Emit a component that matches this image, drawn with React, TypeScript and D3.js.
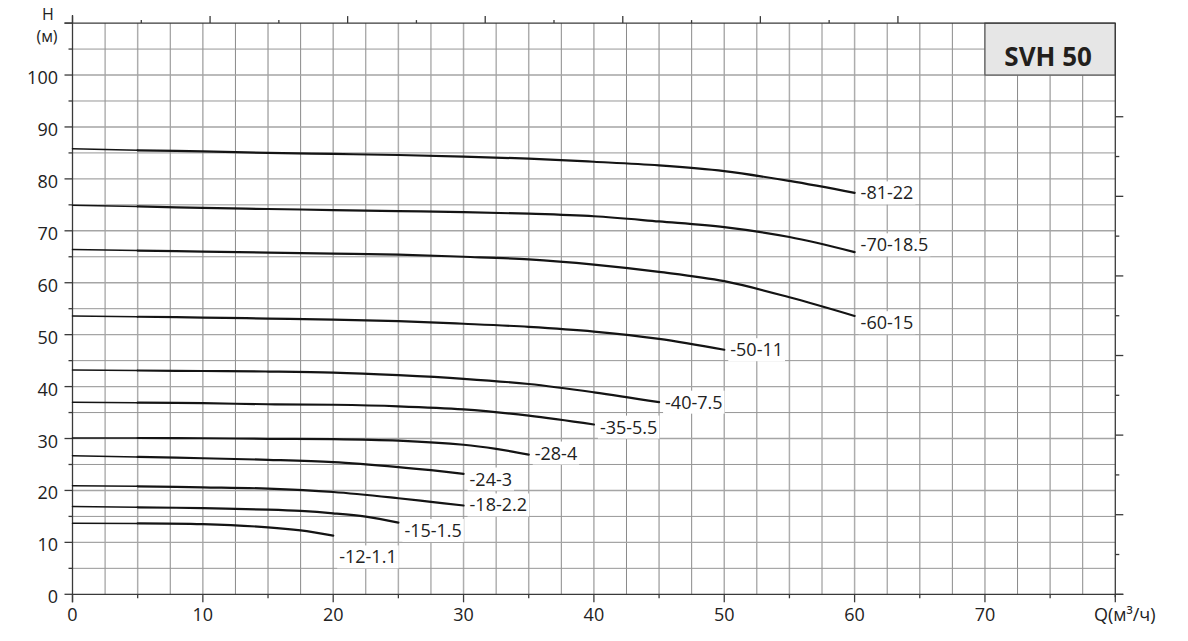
import React, { useEffect, useRef } from "react";
import * as d3 from "d3";

// ---------- data ----------
const seriesNames = ["-81-22", "-70-18.5", "-60-15", "-50-11", "-40-7.5", "-35-5.5", "-28-4", "-24-3", "-18-2.2", "-15-1.5", "-12-1.1"];

const q81 = [0, 5, 10, 15, 20, 25, 30, 35, 40, 45, 50, 55, 60];
const h81 = [85.8, 85.5, 85.3, 85.0, 84.8, 84.6, 84.3, 83.9, 83.3, 82.6, 81.5, 79.6, 77.3];

const q70 = [0, 5, 10, 15, 20, 25, 30, 35, 40, 45, 50, 55, 60];
const h70 = [74.9, 74.7, 74.4, 74.2, 74.0, 73.8, 73.6, 73.3, 72.8, 71.8, 70.7, 68.8, 65.9];

const q60 = [0, 5, 10, 15, 20, 25, 30, 35, 40, 45, 50, 55, 60];
const h60 = [66.4, 66.2, 66.0, 65.8, 65.6, 65.4, 65.0, 64.5, 63.5, 62.1, 60.3, 57.2, 53.6];

const q50 = [0, 5, 10, 15, 20, 25, 30, 35, 40, 45, 50];
const h50 = [53.6, 53.45, 53.3, 53.1, 52.9, 52.6, 52.1, 51.5, 50.6, 49.2, 47.1];

const q40 = [0, 5, 10, 15, 20, 25, 30, 35, 40, 45];
const h40 = [43.2, 43.1, 43.0, 42.9, 42.7, 42.2, 41.5, 40.5, 38.9, 37.0];

const q35 = [0, 5, 10, 15, 20, 25, 30, 35, 40];
const h35 = [37.0, 36.9, 36.8, 36.6, 36.5, 36.2, 35.6, 34.4, 32.7];

const q28 = [0, 5, 10, 15, 20, 25, 30, 32.5, 35];
const h28 = [30.1, 30.1, 30.05, 29.95, 29.9, 29.6, 28.8, 28.0, 26.9];

const q24 = [0, 5, 10, 15, 20, 25, 27.5, 30];
const h24 = [26.7, 26.45, 26.2, 25.9, 25.45, 24.5, 23.9, 23.2];

const q18 = [0, 5, 10, 15, 20, 25, 27.5, 30];
const h18 = [20.9, 20.8, 20.6, 20.35, 19.7, 18.5, 17.8, 17.1];

const q15 = [0, 5, 10, 15, 17.5, 20, 22.5, 25];
const h15 = [16.9, 16.75, 16.6, 16.3, 16.05, 15.6, 14.95, 13.8];

const q12 = [0, 5, 10, 15, 17.5, 20];
const h12 = [13.7, 13.65, 13.5, 12.9, 12.3, 11.3];

const seriesQ = [q81, q70, q60, q50, q40, q35, q28, q24, q18, q15, q12];
const seriesH = [h81, h70, h60, h50, h40, h35, h28, h24, h18, h15, h12];
// label centre heights (m)
const labelH = [77.3, 67.3, 52.3, 47.1, 37.0, 32.2, 27.2, 22.2, 17.2, 12.3, 7.2];

const xTicks = [0, 10, 20, 30, 40, 50, 60, 70];
const yTicks = [0, 10, 20, 30, 40, 50, 60, 70, 80, 90, 100];
const Q_MAX = 80;
const H_MAX = 110;
const TOP_STEP = 5.277; // secondary flow unit step, in m³/h
const TOP_COUNT = 12;
const RIGHT_STEP = 7.664; // secondary head unit step, in m
const RIGHT_COUNT = 12;
const title = "SVH 50";

export default function App() {
  const ref = useRef<SVGSVGElement>(null);

  useEffect(() => {
    const svg = d3.select(ref.current);
    svg.selectAll("*").remove();
    const x = d3.scaleLinear().domain([0, Q_MAX]).range([72.5, 1115.3]);
    const y = d3.scaleLinear().domain([0, H_MAX]).range([594.3, 23.1]);
    const font = "'Open Sans', sans-serif";
    const axisColor = "#3a3a3a";

    // grid
    const g = svg.append("g");
    d3.range(1, Q_MAX / 2.5).forEach((i) => {
      const q = i * 2.5;
      const major = q % 5 === 0;
      g.append("line")
        .attr("x1", x(q)).attr("x2", x(q))
        .attr("y1", y(0)).attr("y2", y(H_MAX))
        .attr("stroke", major ? "#adadad" : "#8a8a8a")
        .attr("stroke-width", major ? 1.5 : 1);
    });
    d3.range(1, H_MAX / 5).forEach((j) => {
      const h = j * 5;
      const major = h % 10 === 0;
      g.append("line")
        .attr("x1", x(0)).attr("x2", x(Q_MAX))
        .attr("y1", y(h)).attr("y2", y(h))
        .attr("stroke", major ? "#a5a5a5" : "#979797")
        .attr("stroke-width", major ? 1.4 : 1);
    });

    // title box
    svg.append("rect")
      .attr("x", x(70)).attr("y", y(H_MAX))
      .attr("width", x(80) - x(70)).attr("height", y(100) - y(H_MAX))
      .attr("fill", "#e6e6e6").attr("stroke", "#555").attr("stroke-width", 1.2);
    svg.append("text")
      .attr("x", (x(70) + x(80)) / 2 - 2).attr("y", y(101.8))
      .attr("text-anchor", "middle")
      .attr("font-family", font).attr("font-weight", 700).attr("font-size", 26)
      .attr("fill", "#231f1c")
      .text(title);

    // axes frame
    const ax = svg.append("g").attr("stroke", axisColor).attr("stroke-width", 1.3);
    ax.append("line").attr("x1", x(0)).attr("x2", x(0)).attr("y1", y(H_MAX) - 8).attr("y2", y(0) + 8);
    ax.append("line").attr("x1", x(0)).attr("x2", x(Q_MAX) + 8).attr("y1", y(0)).attr("y2", y(0));
    ax.append("line").attr("x1", x(0) - 8).attr("x2", x(Q_MAX)).attr("y1", y(H_MAX)).attr("y2", y(H_MAX));
    ax.append("line").attr("x1", x(Q_MAX)).attr("x2", x(Q_MAX)).attr("y1", y(H_MAX)).attr("y2", y(0) + 3);

    // left ticks
    d3.range(0, H_MAX / 5 + 1).forEach((j) => {
      const h = j * 5;
      const len = h % 10 === 0 ? 8 : 4;
      ax.append("line").attr("x1", x(0) - len).attr("x2", x(0)).attr("y1", y(h)).attr("y2", y(h));
    });
    // bottom ticks
    d3.range(0, Q_MAX / 5 + 1).forEach((i) => {
      const q = i * 5;
      const len = q % 10 === 0 ? 8 : 4;
      ax.append("line").attr("x1", x(q)).attr("x2", x(q)).attr("y1", y(0)).attr("y2", y(0) + len);
    });
    // top ticks (secondary unit)
    d3.range(0, TOP_COUNT + 1).forEach((i) => {
      const len = i % 2 === 0 ? 7 : 3;
      const xx = x(i * TOP_STEP);
      ax.append("line").attr("x1", xx).attr("x2", xx).attr("y1", y(H_MAX) - len).attr("y2", y(H_MAX));
    });
    // right ticks (secondary unit)
    d3.range(0, RIGHT_COUNT + 1).forEach((j) => {
      const len = j % 2 === 0 ? 8 : 4;
      const yy = y(j * RIGHT_STEP);
      ax.append("line").attr("x1", x(Q_MAX)).attr("x2", x(Q_MAX) + len).attr("y1", yy).attr("y2", yy);
    });

    // tick labels
    const tl = svg.append("g").attr("font-family", font).attr("font-size", 18).attr("fill", "#222");
    yTicks.forEach((h) => {
      tl.append("text").attr("x", 58).attr("y", y(h) + 9).attr("text-anchor", "end").text(String(h));
    });
    xTicks.forEach((q) => {
      tl.append("text").attr("x", x(q)).attr("y", 621).attr("text-anchor", "middle").text(String(q));
    });
    tl.append("text").attr("x", 1094).attr("y", 621).text("Q(м³/ч)");
    tl.append("text").attr("x", 48).attr("y", 19.5).attr("text-anchor", "middle").attr("font-size", 16).text("H");
    tl.append("text").attr("x", 47).attr("y", 41.5).attr("text-anchor", "middle").attr("font-size", 16).text("(м)");

    // curves
    const line = d3.line<[number, number]>()
      .x((d) => x(d[0])).y((d) => y(d[1]))
      .curve(d3.curveCatmullRom.alpha(0.5));
    const cg = svg.append("g").attr("fill", "none").attr("stroke", "#141414").attr("stroke-linecap", "round");
    seriesQ.forEach((qs, k) => {
      const pts = qs.map((q, i) => [q, seriesH[k][i]] as [number, number]);
      cg.append("path").attr("d", line(pts.filter((p) => p[0] <= 5))).attr("stroke-width", 1.5);
      cg.append("path").attr("d", line(pts.filter((p) => p[0] >= 5))).attr("stroke-width", 2.2);
    });

    // series labels with white background
    const lg = svg.append("g");
    seriesNames.forEach((name, k) => {
      const qs = seriesQ[k];
      const qEnd = qs[qs.length - 1];
      const grp = lg.append("g");
      const rect = grp.append("rect").attr("fill", "#fff");
      const t = grp.append("text")
        .attr("x", x(qEnd) + 6).attr("y", y(labelH[k]) + 6.5)
        .attr("font-family", font).attr("font-size", 18).attr("fill", "#222")
        .text(name);
      const bb = (t.node() as SVGTextElement).getBBox();
      rect.attr("x", bb.x - 2).attr("y", bb.y + 1).attr("width", bb.width + 4).attr("height", bb.height - 1);
    });
  }, []);

  return (
    <svg
      ref={ref}
      width={1188}
      height={641}
      style={{ position: "absolute", left: 0, top: 0, display: "block", background: "#fff" }}
    />
  );
}
